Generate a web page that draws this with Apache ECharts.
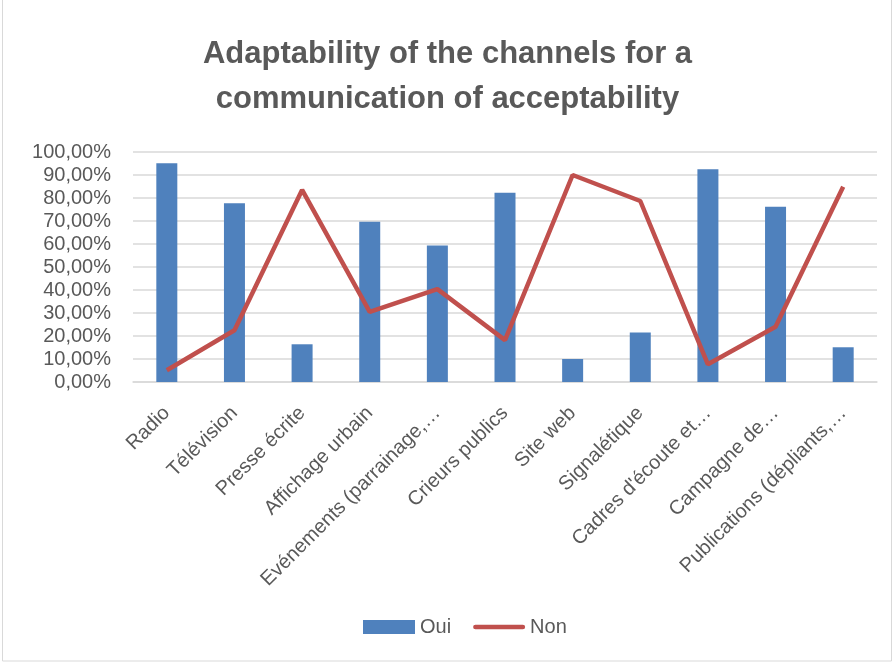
<!DOCTYPE html>
<html>
<head>
<meta charset="utf-8">
<script src="https://cdn.jsdelivr.net/npm/echarts@6/dist/echarts.min.js"></script>
<style>
  html, body { margin: 0; padding: 0; background: #fff; }
  #chart { width: 895px; height: 664px; }
</style>
</head>
<body>
<div id="chart"></div>
<script>
// categories (labels as truncated in the original)
const categories = [
  "Radio", "Télévision", "Presse écrite", "Affichage urbain",
  "Evénements (parrainage,…", "Crieurs publics", "Site web", "Signalétique",
  "Cadres d'écoute et…", "Campagne de…", "Publications (dépliants,…"
];
// values in percent
const ouiValues = [95.1, 77.7, 16.4, 69.7, 59.4, 82.3, 10.0, 21.5, 92.5, 76.2, 15.1];
const nonValues = [5.1, 22.5, 83.5, 30.5, 40.4, 18.2, 90.0, 78.7, 7.7, 24.0, 84.9];
const yTicks = { min: 0, max: 100, interval: 10 };

const FONT = "'Liberation Sans', 'DejaVu Sans', sans-serif";
const GREY = "#595959";

const chart = echarts.init(document.getElementById("chart"));

const option = {
  backgroundColor: "#ffffff",
  animation: false,
  title: {
    text: "Adaptability of the channels for a\ncommunication of acceptability",
    left: "center",
    top: 27,
    textStyle: {
      fontFamily: FONT,
      fontSize: 31,
      fontWeight: "bold",
      color: GREY,
      lineHeight: 45
    }
  },
  grid: {
    left: 133,
    right: 18,
    top: 152,
    bottom: 282
  },
  legend: {
    bottom: 22,
    left: 358,
    itemGap: 22,
    itemWidth: 52,
    itemHeight: 14,
    textStyle: { fontFamily: FONT, fontSize: 20, color: GREY },
    data: [
      { name: "Oui", icon: "rect" },
      { name: "Non", icon: "path://M2,0 L54,0 A2.5,2.5 0 0 1 54,5 L2,5 A2.5,2.5 0 0 1 2,0 Z" }
    ]
  },
  xAxis: {
    type: "category",
    data: categories,
    axisTick: { show: false },
    axisLine: { lineStyle: { color: "#d9d9d9", width: 1.5 } },
    axisLabel: {
      interval: 0,
      rotate: 45,
      margin: 28,
      fontFamily: FONT,
      fontSize: 20,
      color: GREY
    }
  },
  yAxis: {
    type: "value",
    min: yTicks.min,
    max: yTicks.max,
    interval: yTicks.interval,
    axisLine: { show: false },
    axisTick: { show: false },
    splitLine: { lineStyle: { color: "#d9d9d9", width: 1.5 } },
    axisLabel: {
      margin: 22,
      fontFamily: FONT,
      fontSize: 20,
      color: GREY,
      formatter: function (v) {
        return v.toFixed(2).replace(".", ",") + "%";
      }
    }
  },
  series: [
    {
      name: "Oui",
      type: "bar",
      data: ouiValues,
      barWidth: 21,
      itemStyle: { color: "#4f81bd" }
    },
    {
      name: "Non",
      type: "line",
      data: nonValues,
      symbol: "none",
      lineStyle: { color: "#c0504d", width: 4.5 },
      itemStyle: { color: "#c0504d" }
    }
  ],
  graphic: [
    {
      type: "rect",
      shape: { x: 2.5, y: -5, width: 889, height: 666 },
      style: { fill: "none", stroke: "#d9d9d9", lineWidth: 1 }
    }
  ]
};

chart.setOption(option);
</script>
</body>
</html>
